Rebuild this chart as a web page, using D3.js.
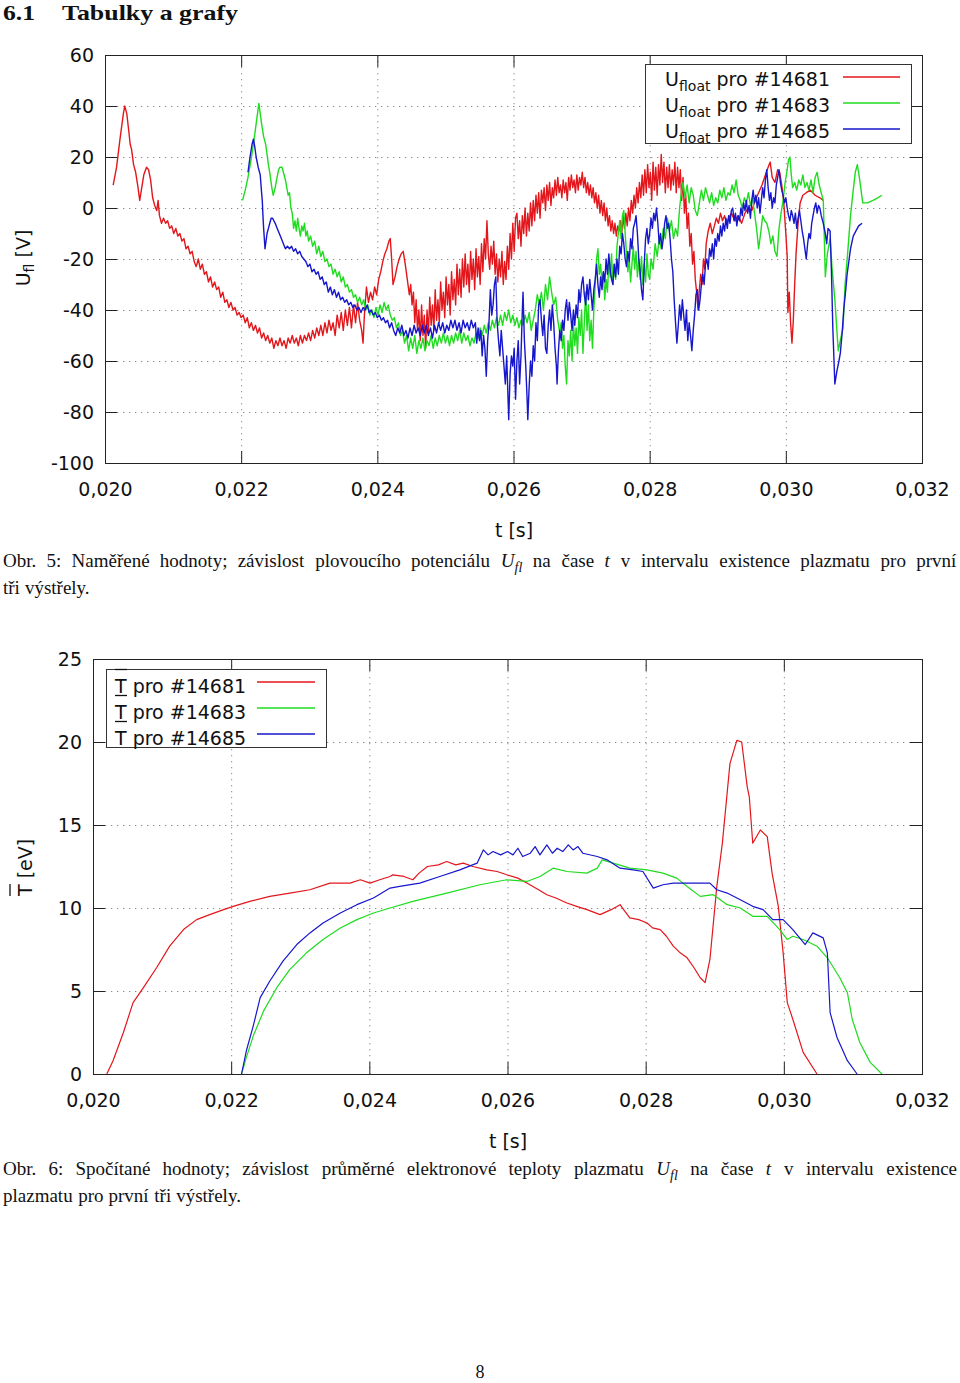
<!DOCTYPE html>
<html><head><meta charset="utf-8">
<script src="https://cdn.jsdelivr.net/npm/d3@7"></script>
<style>body{margin:0;background:#fff} svg{display:block}</style>
</head><body>
<svg id="c" width="960" height="1383"></svg>
<script>
// ---------- shared tick data (time in ms) ----------
const xTicksMs = [20, 22, 24, 26, 28, 30, 32];
const xTickLabels = ["0,020", "0,022", "0,024", "0,026", "0,028", "0,030", "0,032"];
const yTicksU = [-100, -80, -60, -40, -20, 0, 20, 40, 60];
const yTicksT = [0, 5, 10, 15, 20, 25];
const shots = ["#14681", "#14683", "#14685"];
const colors = ["#e3161b", "#1fdc1f", "#1616cc"];

// ---------- Figure 5: floating potential [ms, V] ----------
const uf14681 = [[20.12,9],[20.17,16],[20.22,27],[20.27,37],[20.29,40],[20.32,37],[20.35,30],[20.37,25],[20.39,23],[20.42,17],[20.45,14],[20.48,9],[20.51,3],[20.54,8],[20.57,13],[20.61,16],[20.64,15],[20.67,11],[20.70,4],[20.73,1],[20.76,-1],[20.78,3],[20.80,-3],[20.83,-6],[20.86,-4],[20.89,-6],[20.92,-5],[20.95,-8],[20.98,-7],[21.01,-10],[21.04,-8],[21.07,-11],[21.10,-10],[21.13,-13],[21.16,-12],[21.19,-16],[21.22,-15],[21.25,-18],[21.28,-17],[21.31,-21],[21.34,-23],[21.37,-20],[21.40,-24],[21.43,-22],[21.46,-26],[21.49,-25],[21.52,-29],[21.55,-27],[21.58,-31],[21.61,-29],[21.64,-32],[21.67,-31],[21.70,-35],[21.73,-33],[21.76,-37],[21.79,-36],[21.82,-39],[21.85,-37],[21.88,-40],[21.91,-39],[21.94,-42],[21.97,-41],[22.00,-43],[22.03,-42],[22.06,-45],[22.09,-43],[22.12,-47],[22.15,-45],[22.18,-48],[22.21,-46],[22.24,-49],[22.27,-47],[22.30,-51],[22.33,-49],[22.36,-52],[22.39,-50],[22.42,-53],[22.45,-51],[22.48,-55],[22.51,-52],[22.54,-54],[22.57,-51],[22.60,-54],[22.63,-52],[22.66,-55],[22.69,-51],[22.72,-53],[22.75,-50],[22.78,-53],[22.81,-51],[22.84,-54],[22.87,-50],[22.90,-53],[22.93,-50],[22.96,-52],[22.99,-49],[23.02,-52],[23.05,-48],[23.08,-51],[23.11,-47],[23.14,-50],[23.17,-46],[23.20,-50],[23.23,-45],[23.26,-49],[23.29,-44],[23.32,-48],[23.35,-45],[23.38,-50],[23.41,-42],[23.44,-47],[23.47,-41],[23.50,-48],[23.53,-40],[23.56,-46],[23.59,-39],[23.62,-47],[23.65,-38],[23.68,-45],[23.71,-37],[23.74,-44],[23.77,-48],[23.79,-53],[23.81,-42],[23.84,-31],[23.87,-37],[23.90,-33],[23.93,-36],[23.96,-31],[23.99,-34],[24.02,-28],[24.05,-25],[24.08,-21],[24.11,-18],[24.14,-16],[24.17,-13],[24.19,-12],[24.21,-20],[24.23,-30],[24.26,-27],[24.29,-23],[24.32,-20],[24.35,-18],[24.38,-17],[24.41,-22],[24.44,-28],[24.47,-34],[24.49,-30],[24.51,-38],[24.53,-33],[24.55,-45],[24.57,-36],[24.59,-48],[24.61,-40],[24.63,-52],[24.65,-38],[24.67,-50],[24.69,-42],[24.71,-55],[24.73,-40],[24.75,-49],[24.77,-35],[24.79,-46],[24.81,-38],[24.83,-48],[24.85,-32],[24.87,-44],[24.89,-36],[24.91,-45],[24.93,-29],[24.95,-40],[24.97,-33],[24.99,-43],[25.01,-27],[25.03,-38],[25.05,-30],[25.07,-42],[25.09,-25],[25.11,-36],[25.13,-28],[25.15,-38],[25.17,-22],[25.19,-34],[25.21,-24],[25.23,-35],[25.25,-20],[25.27,-31],[25.29,-18],[25.31,-30],[25.33,-22],[25.35,-33],[25.37,-17],[25.39,-28],[25.41,-20],[25.43,-32],[25.45,-16],[25.47,-27],[25.49,-19],[25.51,-30],[25.53,-14],[25.55,-25],[25.57,-12],[25.59,-20],[25.61,-5],[25.63,-18],[25.65,-24],[25.67,-15],[25.69,-22],[25.71,-13],[25.73,-26],[25.75,-18],[25.77,-29],[25.79,-20],[25.81,-27],[25.83,-17],[25.85,-30],[25.87,-21],[25.89,-28],[25.91,-15],[25.93,-24],[25.95,-10],[25.97,-20],[25.99,-6],[26.01,-17],[26.03,-4],[26.05,-2],[26.07,-12],[26.09,-5],[26.11,-15],[26.13,-3],[26.15,-10],[26.17,0],[26.19,-11],[26.21,-2],[26.23,-9],[26.25,2],[26.27,-7],[26.29,3],[26.31,-5],[26.33,5],[26.35,-2],[26.37,6],[26.39,-4],[26.41,7],[26.43,2],[26.45,8],[26.47,-1],[26.49,9],[26.51,3],[26.53,10],[26.55,1],[26.57,8],[26.59,4],[26.61,11],[26.63,5],[26.65,12],[26.67,6],[26.69,9],[26.71,4],[26.73,11],[26.75,6],[26.77,10],[26.79,3],[26.81,12],[26.83,7],[26.85,13],[26.87,8],[26.89,11],[26.91,6],[26.93,13],[26.95,7],[26.97,12],[26.99,9],[27.01,14],[27.03,8],[27.05,12],[27.07,6],[27.09,10],[27.11,5],[27.13,9],[27.15,4],[27.17,8],[27.19,2],[27.21,6],[27.23,0],[27.25,5],[27.27,-2],[27.29,3],[27.31,-3],[27.33,2],[27.35,-5],[27.37,0],[27.39,-7],[27.41,-3],[27.43,-9],[27.45,-5],[27.47,-10],[27.49,-6],[27.51,-11],[27.53,-7],[27.55,-9],[27.57,-5],[27.59,-10],[27.61,-3],[27.63,-8],[27.65,-2],[27.67,-7],[27.69,0],[27.71,-5],[27.73,3],[27.75,-2],[27.77,5],[27.79,0],[27.81,8],[27.83,2],[27.85,10],[27.87,4],[27.89,13],[27.91,5],[27.93,15],[27.95,6],[27.97,17],[27.99,8],[28.01,14],[28.03,3],[28.05,18],[28.07,7],[28.09,16],[28.11,5],[28.13,17],[28.15,9],[28.17,21],[28.19,10],[28.21,18],[28.23,6],[28.25,16],[28.27,8],[28.29,17],[28.31,7],[28.33,15],[28.35,9],[28.37,18],[28.39,6],[28.41,16],[28.43,8],[28.45,15],[28.47,3],[28.49,12],[28.51,-2],[28.53,5],[28.55,-8],[28.57,-2],[28.59,-15],[28.61,-10],[28.63,-22],[28.65,-17],[28.67,-28],[28.69,-33],[28.71,-40],[28.73,-32],[28.75,-26],[28.77,-30],[28.79,-20],[28.81,-24],[28.83,-14],[28.86,-9],[28.89,-6],[28.92,-10],[28.95,-7],[28.98,-4],[29.01,-6],[29.04,-2],[29.07,-5],[29.10,-3],[29.13,-6],[29.16,-4],[29.20,-2],[29.25,-5],[29.30,-3],[29.35,-6],[29.40,-2],[29.45,0],[29.50,-1],[29.55,3],[29.60,6],[29.65,9],[29.70,13],[29.74,16],[29.77,18],[29.80,12],[29.84,10],[29.88,15],[29.91,14],[29.94,9],[29.97,2],[30.00,-10],[30.02,-19],[30.03,-41],[30.05,-33],[30.07,-45],[30.09,-53],[30.11,-44],[30.13,-30],[30.15,-18],[30.18,-6],[30.21,2],[30.25,5],[30.30,6],[30.36,7],[30.43,5],[30.50,4],[30.55,3]];
const uf14683 = [[22.02,3],[22.06,7],[22.10,12],[22.14,18],[22.18,25],[22.21,31],[22.24,37],[22.26,41],[22.28,37],[22.30,33],[22.33,28],[22.36,25],[22.38,21],[22.40,17],[22.42,14],[22.45,8],[22.47,5],[22.50,8],[22.52,11],[22.55,15],[22.57,16],[22.60,16],[22.62,14],[22.65,11],[22.67,8],[22.69,5],[22.71,6],[22.73,0],[22.75,-2],[22.77,-8],[22.79,-5],[22.81,-9],[22.83,-4],[22.85,-8],[22.87,-11],[22.89,-7],[22.91,-9],[22.93,-6],[22.95,-11],[22.97,-9],[22.99,-13],[23.02,-11],[23.05,-15],[23.08,-13],[23.11,-18],[23.14,-15],[23.17,-19],[23.20,-17],[23.23,-21],[23.26,-20],[23.29,-23],[23.32,-22],[23.35,-26],[23.38,-24],[23.41,-27],[23.44,-25],[23.47,-29],[23.50,-27],[23.53,-31],[23.56,-30],[23.59,-33],[23.62,-32],[23.65,-35],[23.68,-34],[23.71,-37],[23.74,-35],[23.77,-38],[23.80,-36],[23.83,-40],[23.86,-38],[23.89,-42],[23.92,-40],[23.95,-43],[23.98,-39],[24.01,-42],[24.04,-38],[24.07,-41],[24.10,-37],[24.13,-40],[24.16,-38],[24.19,-42],[24.22,-44],[24.25,-43],[24.28,-47],[24.31,-45],[24.34,-50],[24.37,-48],[24.40,-53],[24.43,-50],[24.46,-56],[24.49,-51],[24.52,-55],[24.55,-50],[24.58,-57],[24.61,-52],[24.64,-55],[24.67,-51],[24.70,-56],[24.73,-52],[24.76,-54],[24.79,-50],[24.82,-55],[24.85,-51],[24.88,-54],[24.91,-50],[24.94,-53],[24.97,-49],[25.00,-53],[25.03,-50],[25.06,-54],[25.09,-50],[25.12,-53],[25.15,-49],[25.18,-52],[25.21,-48],[25.24,-53],[25.27,-49],[25.30,-52],[25.33,-50],[25.36,-54],[25.39,-51],[25.42,-53],[25.45,-49],[25.48,-51],[25.51,-47],[25.54,-50],[25.57,-46],[25.60,-49],[25.63,-45],[25.66,-48],[25.69,-44],[25.72,-47],[25.75,-43],[25.78,-46],[25.81,-42],[25.84,-46],[25.87,-41],[25.90,-44],[25.93,-40],[25.96,-45],[25.99,-42],[26.02,-46],[26.05,-43],[26.08,-47],[26.11,-44],[26.14,-46],[26.17,-42],[26.20,-45],[26.23,-41],[26.26,-48],[26.29,-44],[26.32,-40],[26.35,-34],[26.38,-38],[26.41,-33],[26.44,-40],[26.47,-30],[26.50,-36],[26.53,-27],[26.56,-33],[26.59,-38],[26.62,-35],[26.65,-44],[26.68,-49],[26.70,-45],[26.72,-55],[26.74,-50],[26.76,-62],[26.78,-69],[26.80,-52],[26.82,-58],[26.84,-48],[26.86,-60],[26.88,-45],[26.90,-54],[26.92,-47],[26.94,-57],[26.96,-43],[26.98,-50],[27.00,-40],[27.02,-57],[27.04,-45],[27.06,-33],[27.08,-48],[27.10,-38],[27.12,-52],[27.14,-44],[27.16,-55],[27.18,-40],[27.20,-30],[27.22,-20],[27.24,-16],[27.26,-26],[27.28,-22],[27.30,-30],[27.32,-25],[27.34,-36],[27.36,-28],[27.38,-33],[27.40,-21],[27.42,-27],[27.44,-18],[27.46,-30],[27.48,-22],[27.50,-28],[27.52,-15],[27.54,-10],[27.56,-5],[27.58,-12],[27.60,-3],[27.62,-1],[27.64,-10],[27.66,-18],[27.68,-25],[27.70,-20],[27.72,-29],[27.74,-22],[27.76,-15],[27.78,-24],[27.80,-17],[27.82,-27],[27.84,-20],[27.86,-28],[27.88,-19],[27.90,-30],[27.92,-22],[27.94,-29],[27.96,-18],[27.98,-26],[28.00,-28],[28.02,-20],[28.05,-24],[28.08,-14],[28.11,-19],[28.14,-12],[28.17,-16],[28.20,-8],[28.23,-12],[28.26,-4],[28.29,-9],[28.32,-5],[28.35,-12],[28.38,-8],[28.41,-11],[28.44,0],[28.46,5],[28.49,10],[28.52,4],[28.55,9],[28.58,2],[28.61,8],[28.64,5],[28.67,-1],[28.70,-3],[28.73,2],[28.76,7],[28.79,3],[28.82,8],[28.85,5],[28.88,2],[28.91,6],[28.94,1],[28.97,4],[29.00,2],[29.03,7],[29.06,4],[29.09,8],[29.12,3],[29.15,6],[29.18,5],[29.21,9],[29.24,6],[29.27,11],[29.30,5],[29.33,3],[29.36,0],[29.39,4],[29.42,2],[29.45,6],[29.48,1],[29.51,4],[29.54,-2],[29.57,-8],[29.60,-16],[29.63,-10],[29.66,-3],[29.69,-5],[29.72,-6],[29.75,-9],[29.78,-14],[29.81,-11],[29.84,-17],[29.87,-19],[29.90,-8],[29.93,-2],[29.96,3],[29.99,10],[30.02,15],[30.04,19],[30.06,20],[30.08,13],[30.10,8],[30.13,10],[30.16,7],[30.19,11],[30.22,9],[30.25,13],[30.28,8],[30.31,10],[30.34,7],[30.37,11],[30.40,6],[30.43,12],[30.46,14],[30.49,9],[30.52,6],[30.55,3],[30.58,-27],[30.61,-18],[30.65,-12],[30.68,-24],[30.72,-36],[30.75,-48],[30.77,-56],[30.80,-52],[30.84,-47],[30.87,-30],[30.91,-17],[30.95,-3],[30.99,7],[31.02,14],[31.05,17],[31.08,12],[31.13,2],[31.20,2],[31.28,3],[31.35,4],[31.41,5]];
const uf14685 = [[22.10,14],[22.13,20],[22.16,25],[22.18,27],[22.20,24],[22.22,20],[22.25,16],[22.28,13],[22.30,6],[22.31,3],[22.32,-3],[22.33,-8],[22.35,-16],[22.37,-12],[22.38,-10],[22.40,-8],[22.42,-6],[22.44,-4],[22.46,-4],[22.48,-5],[22.50,-6],[22.53,-8],[22.56,-10],[22.59,-12],[22.62,-14],[22.65,-16],[22.68,-15],[22.71,-16],[22.74,-15],[22.77,-17],[22.80,-16],[22.83,-18],[22.86,-17],[22.89,-19],[22.92,-20],[22.95,-21],[22.98,-23],[23.01,-22],[23.04,-25],[23.07,-24],[23.10,-26],[23.13,-25],[23.16,-28],[23.19,-27],[23.22,-30],[23.25,-29],[23.28,-33],[23.31,-31],[23.34,-34],[23.37,-32],[23.40,-35],[23.43,-33],[23.46,-36],[23.49,-35],[23.52,-37],[23.55,-36],[23.58,-38],[23.61,-37],[23.64,-39],[23.67,-38],[23.70,-40],[23.73,-39],[23.76,-41],[23.79,-39],[23.82,-40],[23.85,-38],[23.88,-41],[23.91,-40],[23.94,-42],[23.97,-41],[24.00,-43],[24.03,-42],[24.06,-44],[24.09,-43],[24.12,-45],[24.15,-44],[24.18,-47],[24.21,-45],[24.24,-48],[24.27,-50],[24.30,-47],[24.33,-49],[24.36,-46],[24.39,-50],[24.42,-48],[24.45,-51],[24.48,-47],[24.51,-50],[24.54,-46],[24.57,-49],[24.60,-47],[24.63,-50],[24.66,-46],[24.69,-49],[24.72,-46],[24.75,-50],[24.78,-47],[24.81,-51],[24.84,-46],[24.87,-49],[24.90,-45],[24.93,-48],[24.96,-45],[24.99,-49],[25.02,-46],[25.05,-48],[25.08,-44],[25.11,-47],[25.14,-44],[25.17,-48],[25.20,-45],[25.23,-49],[25.26,-44],[25.29,-47],[25.32,-45],[25.35,-48],[25.38,-44],[25.41,-47],[25.44,-45],[25.46,-53],[25.48,-47],[25.50,-52],[25.52,-48],[25.54,-58],[25.56,-50],[25.58,-55],[25.60,-66],[25.62,-52],[25.64,-45],[25.66,-32],[25.68,-42],[25.70,-38],[25.72,-30],[25.74,-27],[25.76,-45],[25.78,-52],[25.80,-58],[25.82,-48],[25.84,-55],[25.86,-62],[25.88,-69],[25.90,-58],[25.92,-75],[25.93,-83],[25.95,-65],[25.97,-58],[25.99,-62],[26.01,-55],[26.03,-75],[26.05,-60],[26.07,-52],[26.09,-69],[26.11,-58],[26.13,-40],[26.14,-33],[26.16,-52],[26.18,-62],[26.20,-75],[26.21,-83],[26.23,-70],[26.25,-60],[26.27,-66],[26.29,-54],[26.31,-60],[26.33,-45],[26.35,-52],[26.37,-38],[26.39,-36],[26.41,-44],[26.43,-50],[26.45,-42],[26.47,-55],[26.49,-57],[26.51,-46],[26.53,-40],[26.55,-48],[26.57,-38],[26.59,-45],[26.61,-55],[26.63,-62],[26.64,-69],[26.66,-56],[26.68,-48],[26.70,-52],[26.72,-44],[26.74,-48],[26.76,-40],[26.78,-36],[26.80,-44],[26.82,-37],[26.84,-42],[26.86,-48],[26.88,-40],[26.90,-46],[26.92,-38],[26.94,-43],[26.96,-32],[26.98,-37],[27.00,-30],[27.02,-27],[27.04,-34],[27.06,-38],[27.08,-30],[27.10,-36],[27.12,-28],[27.14,-34],[27.16,-40],[27.18,-32],[27.20,-28],[27.22,-22],[27.24,-30],[27.26,-35],[27.28,-27],[27.30,-32],[27.32,-25],[27.34,-29],[27.36,-20],[27.38,-26],[27.40,-18],[27.42,-24],[27.44,-28],[27.46,-30],[27.48,-22],[27.50,-27],[27.52,-20],[27.54,-26],[27.56,-15],[27.58,-18],[27.60,-10],[27.62,-14],[27.64,-20],[27.66,-23],[27.68,-17],[27.70,-21],[27.72,-12],[27.74,-16],[27.76,-8],[27.78,-6],[27.80,-3],[27.82,-10],[27.84,-20],[27.86,-25],[27.88,-32],[27.90,-36],[27.92,-22],[27.94,-12],[27.96,-8],[27.98,-14],[28.00,-10],[28.02,-4],[28.04,-8],[28.06,-2],[28.08,-5],[28.10,0],[28.12,-6],[28.14,-14],[28.16,-10],[28.18,-16],[28.20,-12],[28.22,-6],[28.24,-3],[28.26,-8],[28.28,-6],[28.30,-12],[28.32,-20],[28.34,-25],[28.36,-36],[28.38,-45],[28.40,-53],[28.42,-46],[28.44,-38],[28.46,-44],[28.48,-36],[28.50,-42],[28.52,-48],[28.54,-40],[28.56,-52],[28.58,-45],[28.60,-50],[28.62,-56],[28.64,-48],[28.66,-42],[28.68,-34],[28.70,-32],[28.72,-40],[28.74,-36],[28.76,-30],[28.78,-26],[28.80,-30],[28.82,-22],[28.84,-20],[28.86,-24],[28.88,-16],[28.90,-19],[28.92,-14],[28.94,-20],[28.96,-12],[28.98,-15],[29.00,-10],[29.02,-13],[29.04,-7],[29.06,-11],[29.08,-6],[29.10,-9],[29.12,-4],[29.14,-8],[29.16,-3],[29.18,-6],[29.20,-1],[29.22,0],[29.24,-5],[29.26,-2],[29.28,-7],[29.30,-3],[29.32,-5],[29.34,0],[29.36,-3],[29.38,2],[29.40,-1],[29.42,3],[29.44,-2],[29.46,1],[29.48,-4],[29.50,3],[29.52,7],[29.54,2],[29.56,5],[29.58,0],[29.60,4],[29.62,-2],[29.64,3],[29.66,8],[29.68,4],[29.70,11],[29.72,15],[29.74,8],[29.76,3],[29.78,6],[29.80,0],[29.82,4],[29.84,2],[29.86,9],[29.88,12],[29.90,15],[29.92,10],[29.94,7],[29.96,5],[29.98,2],[30.00,4],[30.02,0],[30.04,-3],[30.06,-5],[30.08,-1],[30.10,-3],[30.12,-6],[30.14,-2],[30.16,-8],[30.18,-4],[30.20,-1],[30.22,-5],[30.24,-9],[30.26,-12],[30.28,-16],[30.30,-20],[30.32,-14],[30.34,-10],[30.36,-12],[30.38,-6],[30.40,-3],[30.42,0],[30.44,2],[30.46,-2],[30.48,1],[30.50,0],[30.52,-3],[30.55,-6],[30.58,-10],[30.60,-14],[30.62,-8],[30.65,-9],[30.67,-25],[30.69,-47],[30.72,-69],[30.75,-64],[30.78,-60],[30.80,-57],[30.83,-48],[30.85,-40],[30.88,-32],[30.90,-26],[30.93,-20],[30.95,-16],[30.99,-11],[31.03,-9],[31.07,-7],[31.12,-6]];

// ---------- Figure 6: mean electron temperature [ms, eV] ----------
const te14681 = [[20.20,0],[20.29,0.8],[20.44,2.5],[20.58,4.3],[20.73,5.2],[20.92,6.4],[21.11,7.7],[21.31,8.7],[21.50,9.3],[21.69,9.6],[21.89,9.9],[22.03,10.1],[22.27,10.4],[22.56,10.7],[22.85,10.9],[23.14,11.1],[23.43,11.5],[23.72,11.5],[23.87,11.7],[24.01,11.5],[24.15,11.7],[24.30,11.9],[24.34,12.0],[24.50,11.9],[24.63,11.7],[24.72,12.1],[24.84,12.5],[25.00,12.6],[25.12,12.8],[25.25,12.6],[25.36,12.7],[25.50,12.5],[25.70,12.3],[25.85,12.2],[25.99,12.0],[26.15,11.8],[26.28,11.5],[26.45,11.1],[26.57,10.8],[26.70,10.6],[26.86,10.3],[27.00,10.1],[27.15,9.9],[27.34,9.6],[27.50,9.9],[27.63,10.2],[27.70,9.8],[27.77,9.4],[27.90,9.3],[28.02,9.1],[28.10,8.8],[28.21,8.7],[28.30,8.3],[28.40,7.7],[28.50,7.3],[28.60,7.0],[28.70,6.4],[28.79,5.8],[28.86,5.5],[28.93,6.9],[29.03,11.3],[29.11,13.9],[29.22,18.7],[29.32,20.1],[29.39,20.0],[29.47,17.3],[29.50,16.7],[29.55,13.9],[29.66,14.7],[29.76,14.3],[29.83,12.1],[29.92,10.1],[29.99,7.3],[30.05,4.3],[30.13,3.3],[30.28,1.3],[30.48,0]];
const te14683 = [[22.15,0],[22.22,1.0],[22.32,2.3],[22.47,3.8],[22.66,5.2],[22.85,6.3],[23.09,7.3],[23.33,8.1],[23.58,8.8],[23.82,9.3],[24.06,9.7],[24.30,10.0],[24.63,10.4],[25.12,10.9],[25.60,11.4],[25.99,11.7],[26.28,11.6],[26.47,11.9],[26.66,12.4],[26.86,12.2],[27.15,12.1],[27.30,12.4],[27.37,12.9],[27.53,12.7],[27.77,12.4],[28.02,12.3],[28.25,12.1],[28.45,11.8],[28.60,11.3],[28.79,10.7],[28.98,10.8],[29.18,10.2],[29.37,10.0],[29.55,9.5],[29.76,9.5],[29.94,8.7],[30.05,8.1],[30.13,8.3],[30.28,8.1],[30.48,7.7],[30.63,7.0],[30.81,5.8],[30.92,4.9],[30.99,3.3],[31.10,1.9],[31.25,0.7],[31.42,0]];
const te14685 = [[22.15,0],[22.22,1.4],[22.32,2.9],[22.42,4.6],[22.56,5.6],[22.75,6.8],[22.95,7.8],[23.14,8.5],[23.33,9.1],[23.58,9.7],[23.82,10.2],[24.06,10.6],[24.30,11.2],[24.44,11.3],[24.73,11.5],[25.02,11.9],[25.31,12.3],[25.56,12.7],[25.65,13.5],[25.72,13.2],[25.79,13.4],[25.90,13.2],[26.00,13.4],[26.08,13.2],[26.15,13.6],[26.22,13.1],[26.33,13.3],[26.40,13.7],[26.47,13.2],[26.57,13.8],[26.65,13.3],[26.72,13.6],[26.80,13.4],[26.88,13.8],[26.95,13.5],[27.02,13.7],[27.09,13.3],[27.30,13.1],[27.44,12.9],[27.63,12.4],[27.82,12.3],[27.96,12.2],[28.11,11.2],[28.25,11.4],[28.40,11.5],[28.69,11.5],[28.93,11.5],[29.03,11.1],[29.18,10.9],[29.37,10.5],[29.55,10.1],[29.70,9.9],[29.84,9.3],[29.99,9.3],[30.13,8.7],[30.31,7.8],[30.42,8.5],[30.57,8.2],[30.63,7.3],[30.67,3.7],[30.77,2.2],[30.92,0.8],[31.06,0]];

// ---------- drawing ----------
const SANS = "'DejaVu Sans', Verdana, sans-serif";
const SERIF = "'Liberation Serif', 'Times New Roman', serif";
const svg = d3.select("#c");

function panel(x, y, yTicks, opts) {
  const [x0, x1] = x.range(), [yb, yt] = y.range();
  const g = svg.append("g");
  const grid = g.append("g").attr("stroke", "#8a8a8a").attr("stroke-width", 1).attr("stroke-dasharray", "1.3,4.7");
  grid.selectAll(".vx").data(xTicksMs.slice(1, -1)).join("line")
    .attr("x1", d => x(d) + 0.5).attr("x2", d => x(d) + 0.5).attr("y1", yt).attr("y2", yb);
  grid.selectAll(".hy").data(yTicks.slice(1, -1)).join("line")
    .attr("x1", x0).attr("x2", x1).attr("y1", d => Math.round(y(d)) + 0.5).attr("y2", d => Math.round(y(d)) + 0.5);

  const line = d3.line().x(d => x(d[0])).y(d => y(d[1]));
  opts.series.forEach((s, i) => {
    g.append("path").datum(s).attr("d", line).attr("fill", "none")
      .attr("stroke", colors[i]).attr("stroke-width", opts.lw).attr("stroke-linejoin", "round");
  });

  const style = sel => {
    sel.select(".domain").remove();
    sel.selectAll("line").attr("stroke", "#222");
    sel.selectAll("text").attr("font-family", SANS).attr("font-size", 19).attr("fill", "#111");
  };
  g.append("g").attr("transform", `translate(0,${yb})`)
    .call(d3.axisBottom(x).tickValues(xTicksMs).tickFormat((d, i) => xTickLabels[i]).tickSizeInner(-12).tickSizeOuter(0).tickPadding(opts.xpad)).call(style);
  g.append("g").attr("transform", `translate(0,${yt})`)
    .call(d3.axisTop(x).tickValues(xTicksMs).tickFormat("").tickSizeInner(-12).tickSizeOuter(0)).call(style);
  g.append("g").attr("transform", `translate(${x0},0)`)
    .call(d3.axisLeft(y).tickValues(yTicks).tickFormat(d3.format("d")).tickSizeInner(-12).tickSizeOuter(0).tickPadding(opts.ypad)).call(style);
  g.append("g").attr("transform", `translate(${x1},0)`)
    .call(d3.axisRight(y).tickValues(yTicks).tickFormat("").tickSizeInner(-12).tickSizeOuter(0)).call(style);
  g.selectAll(".tick text").text(function(){ return this.textContent.replace("−", "-"); });

  g.append("rect").attr("x", x0 + 0.5).attr("y", yt + 0.5).attr("width", x1 - x0).attr("height", yb - yt)
    .attr("fill", "none").attr("stroke", "#222").attr("stroke-width", 1);
  return g;
}

// ---- Figure 5 ----
const xU = d3.scaleLinear().domain([20, 32]).range([105, 922]);
const yU = d3.scaleLinear().domain([-100, 60]).range([463, 55]);
const gU = panel(xU, yU, yTicksU, {series: [uf14681, uf14683, uf14685], lw: 1.4, xpad: 20, ypad: 11});

const lg1 = gU.append("g");
lg1.append("rect").attr("x", 645.5).attr("y", 64.5).attr("width", 266).attr("height", 79)
  .attr("fill", "#fff").attr("stroke", "#333");
shots.forEach((s, i) => {
  const t = lg1.append("text").attr("x", 830).attr("y", 86 + i * 26).attr("text-anchor", "end")
    .attr("font-family", SANS).attr("font-size", 19).attr("fill", "#111");
  t.append("tspan").text("U");
  t.append("tspan").attr("font-size", 14).attr("dy", 5).text("float");
  t.append("tspan").attr("dy", -5).text(" pro " + s);
  lg1.append("line").attr("x1", 843).attr("x2", 900).attr("y1", 77 + i * 26).attr("y2", 77 + i * 26)
    .attr("stroke", colors[i]).attr("stroke-width", 1.4);
});

const yl1 = svg.append("text").attr("transform", "translate(30,258) rotate(-90)").attr("text-anchor", "middle")
  .attr("font-family", SANS).attr("font-size", 19).attr("fill", "#111");
yl1.append("tspan").text("U");
yl1.append("tspan").attr("font-size", 14).attr("dy", 4).text("fl");
yl1.append("tspan").attr("dy", -4).text(" [V]");
svg.append("text").attr("x", 514).attr("y", 537).attr("text-anchor", "middle")
  .attr("font-family", SANS).attr("font-size", 19).attr("fill", "#111").text("t [s]");

// ---- Figure 6 ----
const xT = d3.scaleLinear().domain([20, 32]).range([93, 922]);
const yT = d3.scaleLinear().domain([0, 25]).range([1074, 659]);
const gT = panel(xT, yT, yTicksT, {series: [te14681, te14683, te14685], lw: 1.2, xpad: 20, ypad: 11});

const lg2 = gT.append("g");
lg2.append("rect").attr("x", 106.5).attr("y", 669.5).attr("width", 220).attr("height", 78)
  .attr("fill", "#fff").attr("stroke", "#333");
shots.forEach((s, i) => {
  const by = 693 + i * 26;
  lg2.append("text").attr("x", 115).attr("y", by).attr("font-family", SANS).attr("font-size", 19)
    .attr("fill", "#111").text("T pro " + s);
  lg2.append("line").attr("x1", 115).attr("x2", 127).attr("y1", by - 23.5).attr("y2", by - 23.5)
    .attr("stroke", "#111").attr("stroke-width", 1.3);
  lg2.append("line").attr("x1", 257).attr("x2", 315).attr("y1", 682 + i * 26).attr("y2", 682 + i * 26)
    .attr("stroke", colors[i]).attr("stroke-width", 1.3);
});

const yl2 = svg.append("g").attr("transform", "translate(32,896) rotate(-90)");
yl2.append("text").attr("x", 0).attr("y", 0).attr("font-family", SANS).attr("font-size", 19)
  .attr("fill", "#111").text("T [eV]");
yl2.append("line").attr("x1", 0).attr("x2", 12).attr("y1", -22).attr("y2", -22).attr("stroke", "#111").attr("stroke-width", 1.3);
svg.append("text").attr("x", 508).attr("y", 1148).attr("text-anchor", "middle")
  .attr("font-family", SANS).attr("font-size", 19).attr("fill", "#111").text("t [s]");

// ---------- heading, captions, page number ----------
const h1 = svg.append("text").attr("x", 3).attr("y", 20).attr("font-family", SERIF).attr("font-weight", "bold")
  .attr("font-size", 22).attr("fill", "#111").text("6.1");
const h2 = svg.append("text").attr("x", 62).attr("y", 20).attr("font-family", SERIF).attr("font-weight", "bold")
  .attr("font-size", 22).attr("fill", "#111").text("Tabulky a grafy");
h2.attr("textLength", 176).attr("lengthAdjust", "spacingAndGlyphs");
h1.attr("textLength", 32).attr("lengthAdjust", "spacingAndGlyphs");

const Ufl = [{t: "U", it: true}, {t: "fl", it: true, sub: true}];
function tokens(str) { return str.split(" ").map(w => [{t: w}]); }
function captionLine(toks, x0, x1, y, justify) {
  const g = svg.append("g");
  const els = toks.map(tok => {
    const t = g.append("text").attr("y", y).attr("font-family", SERIF).attr("font-size", 19).attr("fill", "#111");
    tok.forEach(seg => {
      const ts = t.append("tspan").text(seg.t);
      if (seg.it) ts.attr("font-style", "italic");
      if (seg.sub) ts.attr("font-size", 14).attr("dy", 5);
    });
    return t;
  });
  const widths = els.map(e => e.node().getBBox().width);
  const total = d3.sum(widths);
  const gap = justify ? (x1 - x0 - total) / (els.length - 1) : 5;
  let x = x0;
  els.forEach((e, i) => { e.attr("x", x); x += widths[i] + gap; });
}
captionLine([...tokens("Obr. 5: Naměřené hodnoty; závislost plovoucího potenciálu"), Ufl, ...tokens("na čase"), [{t: "t", it: true}], ...tokens("v intervalu existence plazmatu pro první")], 3, 957, 567, true);
captionLine(tokens("tři výstřely."), 3, 957, 594, false);
captionLine([...tokens("Obr. 6: Spočítané hodnoty; závislost průměrné elektronové teploty plazmatu"), Ufl, ...tokens("na čase"), [{t: "t", it: true}], ...tokens("v intervalu existence")], 3, 957, 1175, true);
captionLine(tokens("plazmatu pro první tři výstřely."), 3, 957, 1202, false);

svg.append("text").attr("x", 480).attr("y", 1378).attr("text-anchor", "middle").attr("font-family", SERIF)
  .attr("font-size", 18).attr("fill", "#111").text("8");
</script></body></html>
